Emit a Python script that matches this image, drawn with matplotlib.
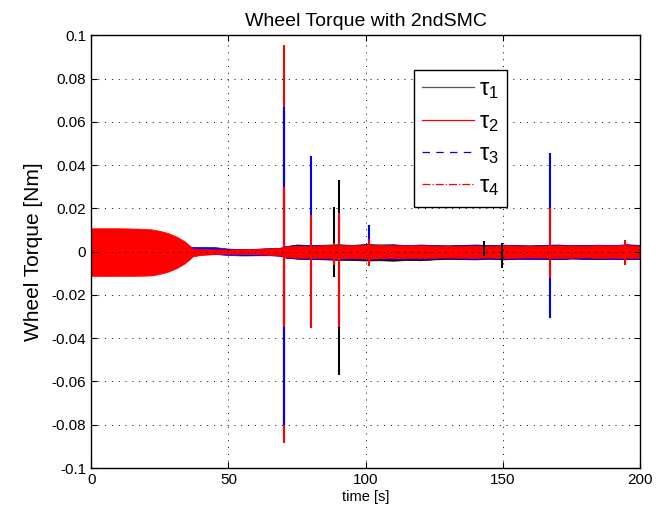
import matplotlib
matplotlib.use("Agg")
import matplotlib.pyplot as plt
from matplotlib.lines import Line2D
from matplotlib.ticker import FormatStrFormatter

# time grid for the noise envelopes [s]
band_t = [0, 5, 10, 15, 20, 22, 25, 28, 31, 34, 36, 37, 40, 45, 50, 55, 60, 65, 69, 71,
          75, 80, 85, 90, 95, 100, 105, 110, 115, 120, 125, 130, 135, 140, 145, 150, 155, 160,
          165, 170, 175, 180, 185, 190, 195, 200]

# tau_1 (black) envelope
tau1_hi = [0.0090, 0.0095, 0.0092, 0.0090, 0.0088, 0.0086, 0.0080, 0.0070, 0.0058, 0.0040, 0.0022, 0.0014,
           0.0012, 0.0011, 0.0010, 0.0011, 0.0012, 0.0015, 0.0017, 0.0026, 0.0033, 0.0030, 0.0032, 0.0034,
           0.0031, 0.0035, 0.0033, 0.0034, 0.0030, 0.0033, 0.0030, 0.0029, 0.0031, 0.0033, 0.0030, 0.0032,
           0.0030, 0.0029, 0.0031, 0.0033, 0.0030, 0.0031, 0.0032, 0.0030, 0.0034, 0.0031]
tau1_lo = [-0.0090, -0.0092, -0.0090, -0.0089, -0.0087, -0.0085, -0.0079, -0.0070, -0.0058, -0.0042, -0.0024, -0.0016,
           -0.0012, -0.0011, -0.0010, -0.0011, -0.0013, -0.0015, -0.0018, -0.0028, -0.0033, -0.0034, -0.0036, -0.0038,
           -0.0039, -0.0041, -0.0040, -0.0042, -0.0039, -0.0040, -0.0036, -0.0034, -0.0035, -0.0036, -0.0033, -0.0036,
           -0.0033, -0.0032, -0.0034, -0.0035, -0.0032, -0.0033, -0.0034, -0.0032, -0.0035, -0.0033]

# tau_2 (red) envelope
tau2_hi = [0.0108, 0.0108, 0.0108, 0.0107, 0.0105, 0.0103, 0.0096, 0.0086, 0.0070, 0.0048, 0.0026, 0.0016,
           0.0013, 0.0012, 0.0011, 0.0012, 0.0013, 0.0016, 0.0018, 0.0025, 0.0028, 0.0027, 0.0030, 0.0031,
           0.0030, 0.0032, 0.0031, 0.0030, 0.0029, 0.0030, 0.0028, 0.0027, 0.0028, 0.0029, 0.0027, 0.0030,
           0.0028, 0.0027, 0.0028, 0.0030, 0.0029, 0.0028, 0.0030, 0.0029, 0.0031, 0.0028]
tau2_lo = [-0.0112, -0.0113, -0.0112, -0.0112, -0.0111, -0.0110, -0.0103, -0.0093, -0.0077, -0.0055, -0.0034, -0.0022,
           -0.0015, -0.0012, -0.0011, -0.0012, -0.0013, -0.0016, -0.0018, -0.0026, -0.0029, -0.0030, -0.0031, -0.0033,
           -0.0031, -0.0033, -0.0032, -0.0031, -0.0030, -0.0031, -0.0029, -0.0028, -0.0029, -0.0030, -0.0028, -0.0031,
           -0.0029, -0.0028, -0.0029, -0.0030, -0.0029, -0.0028, -0.0030, -0.0029, -0.0031, -0.0029]

# tau_3 (blue) envelope
tau3_hi = [0.0030, 0.0028, 0.0030, 0.0029, 0.0028, 0.0027, 0.0026, 0.0025, 0.0024, 0.0024, 0.0023, 0.0022,
           0.0022, 0.0021, 0.0014, 0.0012, 0.0013, 0.0015, 0.0018, 0.0025, 0.0029, 0.0028, 0.0029, 0.0030,
           0.0031, 0.0030, 0.0029, 0.0030, 0.0028, 0.0029, 0.0028, 0.0027, 0.0029, 0.0030, 0.0028, 0.0029,
           0.0028, 0.0027, 0.0029, 0.0031, 0.0029, 0.0028, 0.0029, 0.0028, 0.0032, 0.0029]
tau3_lo = [-0.0030, -0.0020, -0.0018, -0.0017, -0.0016, -0.0016, -0.0016, -0.0015, -0.0015, -0.0015, -0.0014, -0.0012,
           -0.0010, -0.0011, -0.0016, -0.0018, -0.0017, -0.0017, -0.0019, -0.0027, -0.0031, -0.0033, -0.0032, -0.0034,
           -0.0033, -0.0032, -0.0033, -0.0034, -0.0032, -0.0033, -0.0031, -0.0030, -0.0032, -0.0034, -0.0031, -0.0033,
           -0.0032, -0.0034, -0.0032, -0.0034, -0.0031, -0.0033, -0.0032, -0.0034, -0.0032, -0.0033]

# tau_4 (red, dash-dot) envelope
tau4_hi = [0.0100, 0.0101, 0.0100, 0.0099, 0.0097, 0.0095, 0.0089, 0.0080, 0.0065, 0.0044, 0.0024, 0.0015,
           0.0012, 0.0011, 0.0010, 0.0011, 0.0012, 0.0015, 0.0017, 0.0024, 0.0027, 0.0026, 0.0029, 0.0030,
           0.0029, 0.0031, 0.0030, 0.0029, 0.0028, 0.0029, 0.0027, 0.0026, 0.0027, 0.0028, 0.0026, 0.0029,
           0.0027, 0.0026, 0.0027, 0.0029, 0.0028, 0.0027, 0.0029, 0.0028, 0.0030, 0.0027]
tau4_lo = [-0.0104, -0.0105, -0.0104, -0.0104, -0.0103, -0.0102, -0.0096, -0.0087, -0.0072, -0.0051, -0.0031, -0.0020,
           -0.0014, -0.0011, -0.0010, -0.0011, -0.0012, -0.0015, -0.0017, -0.0025, -0.0028, -0.0029, -0.0030, -0.0032,
           -0.0030, -0.0032, -0.0031, -0.0030, -0.0029, -0.0030, -0.0028, -0.0027, -0.0028, -0.0029, -0.0027, -0.0030,
           -0.0028, -0.0027, -0.0028, -0.0029, -0.0028, -0.0027, -0.0029, -0.0028, -0.0030, -0.0028]

# spikes: time, top, bottom
tau1_spk_t = [70.1, 88.6, 90.1, 143.2, 149.8]
tau1_spk_hi = [0.065, 0.0205, 0.033, 0.005, 0.004]
tau1_spk_lo = [-0.080, -0.0118, -0.057, -0.002, -0.0078]

tau2_spk_t = [70.1]
tau2_spk_hi = [0.0954]
tau2_spk_lo = [-0.0885]

tau3_spk_t = [70.1, 80.0, 101.3, 167.0]
tau3_spk_hi = [0.067, 0.0441, 0.0125, 0.0455]
tau3_spk_lo = [-0.080, -0.035, -0.004, -0.0307]

tau4_spk_t = [70.1, 80.0, 88.6, 90.1, 101.3, 167.0, 194.3]
tau4_spk_hi = [0.030, 0.0169, 0.004, 0.0178, 0.006, 0.020, 0.0053]
tau4_spk_lo = [-0.035, -0.0352, -0.006, -0.0347, -0.0065, -0.012, -0.0062]

labels = [r'$\tau_1$', r'$\tau_2$', r'$\tau_3$', r'$\tau_4$']


def main():
    plt.rcParams['font.family'] = ['Liberation Sans', 'DejaVu Sans']
    plt.rcParams['mathtext.fontset'] = 'custom'
    plt.rcParams['mathtext.it'] = 'Liberation Sans'
    plt.rcParams['mathtext.rm'] = 'Liberation Sans'

    fig = plt.figure(figsize=(6.56, 5.18), dpi=100)
    ax = fig.add_axes([0.139, 0.0965, 0.837, 0.8355])

    series = [
        ('black', tau1_hi, tau1_lo, tau1_spk_t, tau1_spk_hi, tau1_spk_lo),
        ('red', tau2_hi, tau2_lo, tau2_spk_t, tau2_spk_hi, tau2_spk_lo),
        ('blue', tau3_hi, tau3_lo, tau3_spk_t, tau3_spk_hi, tau3_spk_lo),
        ('red', tau4_hi, tau4_lo, tau4_spk_t, tau4_spk_hi, tau4_spk_lo),
    ]
    for col, hi, lo, st, sh, sl in series:
        ax.fill_between(band_t, lo, hi, color=col, lw=0.5)
    for col, hi, lo, st, sh, sl in series:
        ax.vlines(st, sl, sh, colors=col, lw=1.5)

    ax.set_xlim(0, 200)
    ax.set_ylim(-0.1, 0.1)
    ax.set_xticks([0, 50, 100, 150, 200])
    ax.set_yticks([-0.1, -0.08, -0.06, -0.04, -0.02, 0, 0.02, 0.04, 0.06, 0.08, 0.1])
    ax.yaxis.set_major_formatter(FormatStrFormatter('%g'))
    ax.tick_params(direction='in', top=True, right=True, length=4, labelsize=11)
    ax.grid(True, color='black', linestyle=(0, (1, 6)), linewidth=0.7)
    for s in ax.spines.values():
        s.set_linewidth(1.0)

    ax.set_title('Wheel Torque with 2ndSMC', fontsize=14, pad=7)
    ax.set_xlabel('time [s]', fontsize=10.5, labelpad=2)
    ax.set_ylabel('Wheel Torque [Nm]', fontsize=15, labelpad=6)

    # legend
    handles = [
        Line2D([], [], color='#555555', lw=0.9, ls='-'),
        Line2D([], [], color='red', lw=0.9, ls='-'),
        Line2D([], [], color='blue', lw=0.9, ls=(0, (6, 5))),
        Line2D([], [], color='red', lw=0.9, ls='-.'),
    ]
    leg = ax.legend(handles, labels, loc='upper left', bbox_to_anchor=(0.588, 0.919),
                    borderaxespad=0, fancybox=False, framealpha=1, edgecolor='black',
                    fontsize=17, handlelength=2.2, handletextpad=0.2, labelspacing=0.4,
                    borderpad=0.35)
    leg.get_frame().set_linewidth(1.0)

    fig.savefig('out.png', dpi=100)


if __name__ == '__main__':
    main()
